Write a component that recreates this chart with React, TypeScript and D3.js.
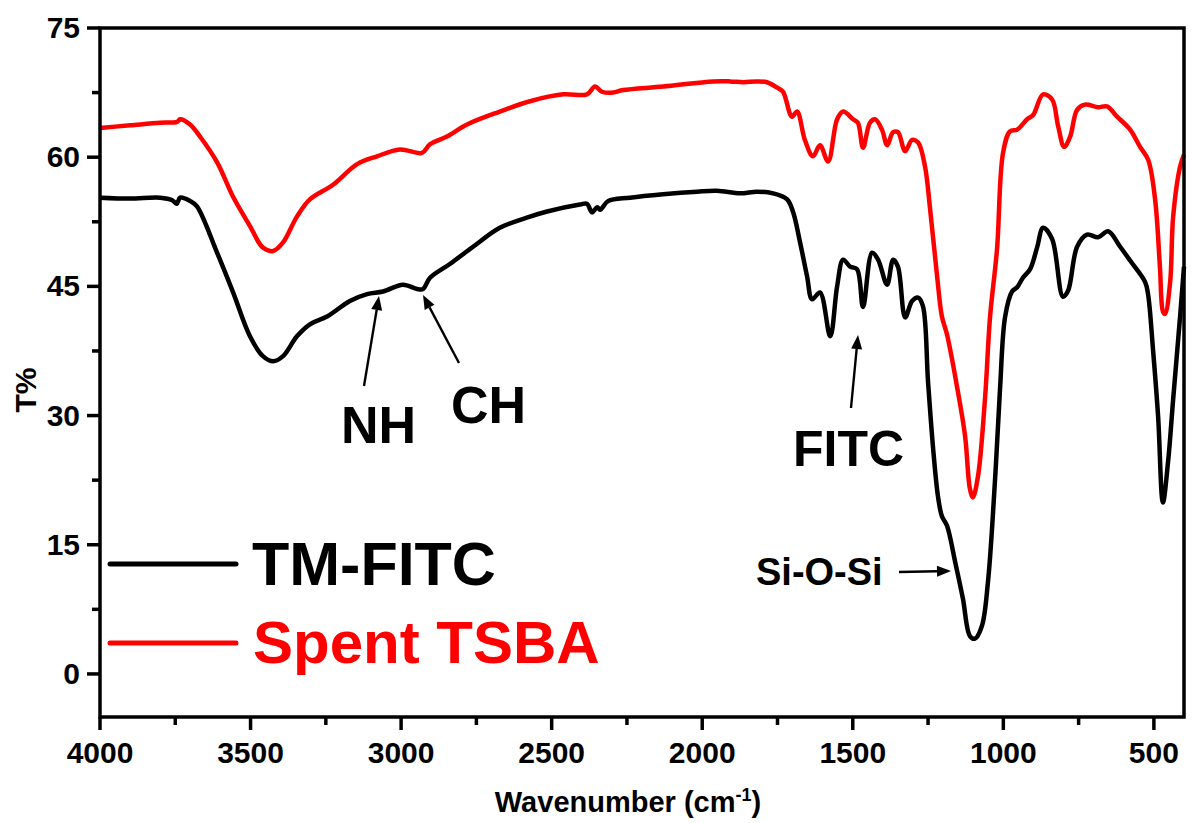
import React from "react";
import * as d3 from "d3";

// TM-FITC spectrum: [wavenumber, T%]
const tmFitc: [number, number][] = [
  [4000, 55.3], [3900, 55.2], [3800, 55.3], [3760, 55.0], [3745, 54.6], [3734, 55.3], [3700, 54.9],
  [3678, 54.3], [3611, 48.9], [3558, 44.3], [3502, 39.2], [3459, 36.9], [3425, 36.3], [3392, 36.9],
  [3346, 39.2], [3303, 40.6], [3246, 41.5], [3170, 43.3], [3113, 44.1], [3060, 44.4], [2994, 45.2],
  [2947, 44.7], [2927, 44.7], [2904, 46.0], [2838, 47.6], [2761, 49.6], [2672, 51.8], [2572, 53.1],
  [2515, 53.7], [2406, 54.5], [2383, 54.6], [2366, 53.6], [2349, 54.2], [2339, 53.9], [2313, 54.9],
  [2240, 55.3], [2130, 55.7], [2017, 56.0], [1951, 56.1], [1874, 55.8], [1818, 56.0], [1765, 55.8],
  [1718, 55.1], [1698, 53.6], [1675, 50.1], [1652, 46.2], [1635, 43.5], [1609, 44.3], [1575, 39.2],
  [1552, 45.0], [1532, 48.1], [1509, 47.3], [1486, 47.0], [1466, 42.6], [1436, 48.9], [1416, 48.1],
  [1386, 45.2], [1366, 48.1], [1350, 47.3], [1326, 41.4], [1303, 43.3], [1283, 43.7], [1267, 42.7],
  [1250, 33.9], [1233, 26.1], [1217, 20.6], [1204, 18.3], [1187, 17.2], [1160, 13.0], [1134, 8.7],
  [1111, 4.4], [1094, 4.1], [1071, 5.6], [1051, 10.7], [1028, 22.3], [1011, 33.1], [994, 41.5],
  [971, 44.4], [954, 44.9], [935, 46.0], [911, 47.0], [888, 49.5], [868, 51.8], [838, 50.5],
  [802, 43.8], [785, 44.5], [755, 49.6], [722, 51.0], [685, 50.7], [652, 51.4], [612, 49.6],
  [579, 48.0], [529, 45.5], [519, 44.0], [503, 37.7], [486, 29.9], [470, 19.9], [453, 24.6],
  [436, 31.9], [413, 41.5], [400, 47.3],
];

// Spent TSBA spectrum: [wavenumber, T%]
const spentTsba: [number, number][] = [
  [4000, 63.4], [3900, 63.7], [3800, 64.0], [3744, 64.1], [3734, 64.4], [3701, 63.8], [3668, 62.4],
  [3611, 59.4], [3558, 55.4], [3502, 52.0], [3459, 49.5], [3425, 49.1], [3392, 50.1], [3346, 53.1],
  [3303, 55.1], [3226, 56.8], [3146, 59.2], [3080, 60.1], [3004, 60.9], [2931, 60.5], [2904, 61.5],
  [2848, 62.4], [2781, 63.8], [2672, 65.3], [2572, 66.5], [2462, 67.3], [2383, 67.3], [2356, 68.2],
  [2333, 67.6], [2296, 67.5], [2263, 67.8], [2130, 68.2], [1964, 68.8], [1908, 68.8], [1864, 68.7],
  [1818, 68.8], [1785, 68.7], [1752, 68.1], [1732, 67.6], [1702, 64.7], [1685, 65.3], [1659, 62.0],
  [1632, 60.1], [1609, 61.4], [1582, 59.5], [1552, 64.4], [1532, 65.3], [1499, 64.4], [1483, 64.0],
  [1466, 61.1], [1443, 64.0], [1426, 64.4], [1403, 63.2], [1386, 61.4], [1366, 62.9], [1350, 62.9],
  [1326, 60.7], [1303, 62.0], [1283, 61.7], [1260, 58.9], [1243, 53.9], [1220, 46.2], [1204, 41.5],
  [1187, 39.4], [1154, 33.4], [1127, 27.6], [1111, 21.5], [1101, 20.5], [1084, 23.0], [1061, 31.9],
  [1044, 41.5], [1021, 49.3], [1001, 60.5], [978, 63.0], [954, 63.2], [921, 64.4], [901, 64.9],
  [868, 67.3], [838, 66.7], [818, 63.6], [798, 61.2], [778, 62.4], [755, 65.5], [729, 66.1],
  [685, 65.8], [656, 65.9], [622, 64.7], [579, 63.2], [546, 61.2], [519, 59.7], [496, 55.1],
  [480, 47.3], [470, 42.1], [463, 41.8], [446, 45.5], [436, 53.1], [413, 58.9], [400, 60.3],
];

const xMajorTicks = [4000, 3500, 3000, 2500, 2000, 1500, 1000, 500];
const xMinorTicks = [3750, 3250, 2750, 2250, 1750, 1250, 750];
const yMajorTicks = [0, 15, 30, 45, 60, 75];
const yMinorTicks = [7.5, 22.5, 37.5, 52.5, 67.5];

const seriesNames = ["TM-FITC", "Spent TSBA"];
const seriesColors = ["#000000", "#ff0000"];

const W = 1192;
const H = 823;
const m = { left: 100, right: 1184, top: 28, bottom: 717 };
const FONT = "Arial, 'Liberation Sans', Helvetica, sans-serif";

export default function App() {
  const x = d3.scaleLinear().domain([4000, 400]).range([m.left, m.right]);
  const y = d3.scaleLinear().domain([-5, 75]).range([m.bottom, m.top]);
  const line = d3
    .line<[number, number]>()
    .x((d) => x(d[0]))
    .y((d) => y(d[1]))
    .curve(d3.curveCatmullRom.alpha(0.5));

  const arrow = (x1: number, y1: number, x2: number, y2: number, key: string) => {
    const ang = Math.atan2(y2 - y1, x2 - x1);
    const L = 14;
    const hw = 5.5;
    const bx = x2 - L * Math.cos(ang);
    const by = y2 - L * Math.sin(ang);
    const px = -Math.sin(ang) * hw;
    const py = Math.cos(ang) * hw;
    return (
      <g key={key}>
        <line x1={x1} y1={y1} x2={bx} y2={by} stroke="#000" strokeWidth={2.4} />
        <polygon points={`${x2},${y2} ${bx + px},${by + py} ${bx - px},${by - py}`} fill="#000" />
      </g>
    );
  };

  return (
    <svg width={W} height={H} style={{ position: "absolute", left: 0, top: 0, background: "#fff" }} fontFamily={FONT}>
      {/* curves */}
      <path d={line(tmFitc) || ""} fill="none" stroke={seriesColors[0]} strokeWidth={4.5} strokeLinejoin="round" />
      <path d={line(spentTsba) || ""} fill="none" stroke={seriesColors[1]} strokeWidth={4.5} strokeLinejoin="round" />

      {/* frame */}
      <rect x={m.left} y={m.top} width={m.right - m.left} height={m.bottom - m.top} fill="none" stroke="#000" strokeWidth={3.5} />

      {/* x ticks */}
      {xMajorTicks.map((t) => (
        <g key={"xm" + t}>
          <line x1={x(t)} x2={x(t)} y1={m.bottom} y2={m.bottom + 13} stroke="#000" strokeWidth={3.5} />
          <text x={x(t)} y={763} textAnchor="middle" fontSize={30} fontWeight="bold">{t}</text>
        </g>
      ))}
      {xMinorTicks.map((t) => (
        <line key={"xn" + t} x1={x(t)} x2={x(t)} y1={m.bottom} y2={m.bottom + 8} stroke="#000" strokeWidth={3.5} />
      ))}
      {/* y ticks */}
      {yMajorTicks.map((t) => (
        <g key={"ym" + t}>
          <line x1={m.left - 13} x2={m.left} y1={y(t)} y2={y(t)} stroke="#000" strokeWidth={3.5} />
          <text x={80} y={y(t) + 10} textAnchor="end" fontSize={30} fontWeight="bold">{t}</text>
        </g>
      ))}
      {yMinorTicks.map((t) => (
        <line key={"yn" + t} x1={m.left - 8} x2={m.left} y1={y(t)} y2={y(t)} stroke="#000" strokeWidth={3.5} />
      ))}

      {/* axis titles */}
      <text x={628} y={812} textAnchor="middle" fontSize={29} fontWeight="bold">
        Wavenumber (cm<tspan dy={-11} fontSize={18}>-1</tspan><tspan dy={11}>)</tspan>
      </text>
      <text transform="translate(36,390) rotate(-90)" textAnchor="middle" fontSize={30} fontWeight="bold">T%</text>

      {/* legend */}
      <line x1={110} x2={236} y1={564} y2={564} stroke={seriesColors[0]} strokeWidth={5} strokeLinecap="round" />
      <text x={252} y={585} fontSize={61} fontWeight="bold" fill={seriesColors[0]}>{seriesNames[0]}</text>
      <line x1={110} x2={236} y1={643} y2={643} stroke={seriesColors[1]} strokeWidth={5} strokeLinecap="round" />
      <text x={253} y={663} fontSize={60} fontWeight="bold" fill={seriesColors[1]}>{seriesNames[1]}</text>

      {/* annotations */}
      <text x={341} y={443} fontSize={52} fontWeight="bold">NH</text>
      <text x={451} y={423} fontSize={52} fontWeight="bold">CH</text>
      <text x={793} y={466} fontSize={50} fontWeight="bold">FITC</text>
      <text x={756} y={585} fontSize={38} fontWeight="bold">Si-O-Si</text>
      {arrow(364, 386, 379, 296, "a1")}
      {arrow(459, 363, 423, 295, "a2")}
      {arrow(851, 408, 858, 335, "a3")}
      {arrow(899, 572, 951, 571, "a4")}
    </svg>
  );
}
